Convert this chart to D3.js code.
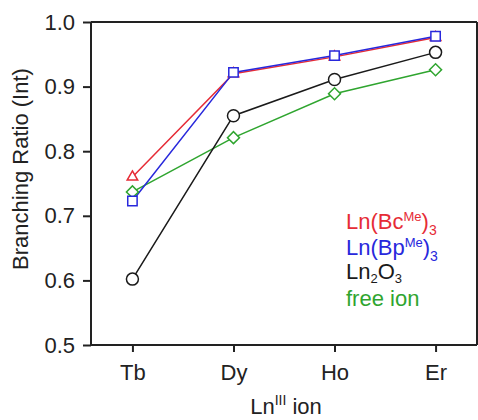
<!DOCTYPE html>
<html>
<head>
<meta charset="utf-8">
<script src="https://cdn.jsdelivr.net/npm/d3@7"></script>
<style>
  body { margin: 0; background: #fff; }
  svg { font-family: "Liberation Sans", Arial, sans-serif; }
</style>
</head>
<body>
<svg id="chart" width="478" height="420"></svg>
<script>
// ions on the x axis
const ions = ["Tb", "Dy", "Ho", "Er"];
const yTicks = [0.5, 0.6, 0.7, 0.8, 0.9, 1.0];

// branching ratios
const bcMe = [0.760, 0.920, 0.946, 0.976];
const bpMe = [0.723, 0.922, 0.948, 0.978];
const ln2o3 = [0.602, 0.855, 0.911, 0.953];
const freeIon = [0.737, 0.821, 0.889, 0.926];

const svg = d3.select("#chart");

const plotLeft = 91, plotRight = 477, plotTop = 22, plotBottom = 345;

const x = d3.scalePoint()
    .domain(ions)
    .range([plotLeft, plotRight])
    .padding(0.41);

const y = d3.scaleLinear()
    .domain([0.5, 1.0])
    .range([plotBottom, plotTop]);

// box: top and right lines
svg.append("line")
    .attr("x1", plotLeft).attr("x2", plotRight)
    .attr("y1", plotTop).attr("y2", plotTop)
    .attr("stroke", "#222").attr("stroke-width", 2);
svg.append("line")
    .attr("x1", plotRight).attr("x2", plotRight)
    .attr("y1", plotTop).attr("y2", plotBottom)
    .attr("stroke", "#222").attr("stroke-width", 2);

// y axis
const yAxis = svg.append("g")
    .attr("transform", `translate(${plotLeft},0)`)
    .call(d3.axisLeft(y).tickValues(yTicks).tickFormat(d3.format(".1f")).tickSize(8).tickPadding(8).tickSizeOuter(0));

// x axis
const xAxis = svg.append("g")
    .attr("transform", `translate(0,${plotBottom})`)
    .call(d3.axisBottom(x).tickSize(7).tickPadding(12).tickSizeOuter(0));

[xAxis, yAxis].forEach(function(g) {
    g.select(".domain").attr("stroke", "#222").attr("stroke-width", 2);
    g.selectAll(".tick line").attr("stroke", "#222").attr("stroke-width", 2);
    g.selectAll(".tick text")
        .attr("fill", "#222")
        .style("font-size", "22px")
        .style("font-family", "'Liberation Sans', Arial, sans-serif");
});
// domains span the whole plot box
xAxis.select(".domain").attr("d", `M${plotLeft},0H${plotRight}`);
yAxis.select(".domain").attr("d", `M0,${plotBottom}V${plotTop}`);

// axis titles
svg.append("text")
    .attr("transform", `translate(28,169) rotate(-90)`)
    .attr("text-anchor", "middle")
    .attr("fill", "#222")
    .style("font-size", "22px")
    .text("Branching Ratio (Int)");

const xt = svg.append("text")
    .attr("x", 286).attr("y", 414)
    .attr("text-anchor", "middle")
    .attr("fill", "#222")
    .style("font-size", "22px");
xt.append("tspan").text("Ln");
xt.append("tspan").attr("dy", -9).style("font-size", "14px").text("III");
xt.append("tspan").attr("dy", 9).text(" ion");

// series
const series = [
    { name: "bc", values: bcMe, color: "#e62c36", marker: "triangle" },
    { name: "bp", values: bpMe, color: "#2828dc", marker: "square" },
    { name: "ln2o3", values: ln2o3, color: "#1a1a1a", marker: "circle" },
    { name: "free", values: freeIon, color: "#2fa52f", marker: "diamond" }
];

const line = d3.line()
    .x((d, i) => x(ions[i]))
    .y(d => y(d));

const drawOrder = [3, 2, 0, 1];
drawOrder.forEach(function(k) {
    const s = series[k];
    svg.append("path")
        .datum(s.values)
        .attr("fill", "none")
        .attr("stroke", s.color)
        .attr("stroke-width", 1.5)
        .attr("d", line);
});

const symbols = {
    triangle: d3.symbol().type(d3.symbolTriangle).size(48),
    square: d3.symbol().type(d3.symbolSquare).size(88),
    circle: d3.symbol().type(d3.symbolCircle).size(113),
    diamond: d3.symbol().type(d3.symbolSquare).size(72)
};

drawOrder.forEach(function(k) {
    const s = series[k];
    svg.append("g").selectAll("path")
        .data(s.values)
        .join("path")
        .attr("transform", (d, i) => `translate(${x(ions[i])},${y(d)})` + (s.marker === "diamond" ? " rotate(45)" : ""))
        .attr("d", symbols[s.marker])
        .attr("fill", "#fff")
        .attr("stroke", s.color)
        .attr("stroke-width", 1.5);
});

// legend
const legend = svg.append("g").style("font-size", "22px");

const l1 = legend.append("text").attr("x", 346).attr("y", 229).attr("fill", "#e62c36");
l1.append("tspan").text("Ln(Bc");
l1.append("tspan").attr("dy", -8).style("font-size", "13px").text("Me");
l1.append("tspan").attr("dy", 8).text(")");
l1.append("tspan").attr("dy", 6).style("font-size", "14px").text("3");

const l2 = legend.append("text").attr("x", 346).attr("y", 255).attr("fill", "#2828dc");
l2.append("tspan").text("Ln(Bp");
l2.append("tspan").attr("dy", -8).style("font-size", "13px").text("Me");
l2.append("tspan").attr("dy", 8).text(")");
l2.append("tspan").attr("dy", 6).style("font-size", "14px").text("3");

const l3 = legend.append("text").attr("x", 346).attr("y", 279).attr("fill", "#1a1a1a");
l3.append("tspan").text("Ln");
l3.append("tspan").attr("dy", 4).style("font-size", "13px").text("2");
l3.append("tspan").attr("dy", -4).text("O");
l3.append("tspan").attr("dy", 4).style("font-size", "13px").text("3");

legend.append("text").attr("x", 346).attr("y", 306).attr("fill", "#2fa52f").text("free ion");
</script>
</body>
</html>
